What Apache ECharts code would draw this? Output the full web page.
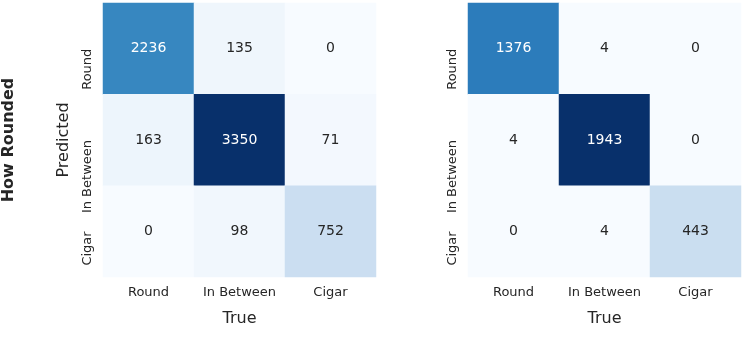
<!DOCTYPE html>
<html>
<head>
<meta charset="utf-8">
<script src="https://cdn.jsdelivr.net/npm/echarts@6/dist/echarts.min.js"></script>
<style>
html, body { margin: 0; padding: 0; background: #fff; }
#chart { width: 756px; height: 360px; }
</style>
</head>
<body>
<div id="chart"></div>
<script>
// confusion matrices, rows = predicted, cols = true
const classes = ['Round', 'In Between', 'Cigar'];
const leftMatrix = [
	[2236, 135, 0],
	[163, 3350, 71],
	[0, 98, 752]
];
const rightMatrix = [
	[1376, 4, 0],
	[4, 1943, 0],
	[0, 4, 443]
];
const blues = ['#f7fbff', '#deebf7', '#c6dbef', '#9ecae1', '#6baed6', '#4292c6', '#2171b5', '#08519c', '#08306b'];

const font = 'DejaVu Sans';
const dark = '#262626';

const toCells = (m) => {
	const max = Math.max(...m.flat());
	const out = [];
	m.forEach((row, r) => row.forEach((v, c) => {
		out.push({
			value: [c, r, v],
			label: { color: v / max > 0.5 ? '#ffffff' : dark }
		});
	}));
	return out;
};

const grids = [
	{ left: 103, top: 3, width: 273, height: 274 },
	{ left: 468, top: 3, width: 273, height: 274 }
];

const xAxis = grids.map((g, i) => ({
	type: 'category',
	gridIndex: i,
	data: classes,
	name: 'True',
	nameLocation: 'middle',
	nameGap: 34,
	nameTextStyle: { fontFamily: font, fontSize: 16, color: dark },
	axisLine: { show: false },
	axisTick: { show: false },
	splitLine: { show: false },
	axisLabel: { interval: 0, fontFamily: font, fontSize: 13, color: dark, margin: 9 }
}));

const yAxis = grids.map((g, i) => ({
	type: 'category',
	gridIndex: i,
	data: classes,
	inverse: true,
	name: i === 0 ? 'Predicted' : '',
	nameLocation: 'middle',
	nameRotate: 90,
	nameGap: 31,
	nameTextStyle: { fontFamily: font, fontSize: 16, color: dark },
	axisLine: { show: false },
	axisTick: { show: false },
	splitLine: { show: false },
	axisLabel: { interval: 0, fontFamily: font, fontSize: 13, color: dark, rotate: 90, margin: 9, align: 'right' }
}));

const mats = [leftMatrix, rightMatrix];

const chart = echarts.init(document.getElementById('chart'), null, { renderer: 'canvas' });
chart.setOption({
	animation: false,
	backgroundColor: '#ffffff',
	grid: grids,
	xAxis: xAxis,
	yAxis: yAxis,
	visualMap: mats.map((m, i) => ({
		show: false,
		seriesIndex: i,
		dimension: 2,
		min: 0,
		max: Math.max(...m.flat()),
		inRange: { color: blues }
	})),
	graphic: [{
		type: 'text',
		x: 9,
		y: 140,
		rotation: Math.PI / 2,
		style: {
			text: 'How Rounded',
			fontFamily: font,
			fontSize: 16,
			fontWeight: 'bold',
			fill: dark,
			align: 'center',
			verticalAlign: 'middle'
		}
	}],
	series: mats.map((m, i) => ({
		type: 'heatmap',
		xAxisIndex: i,
		yAxisIndex: i,
		data: toCells(m),
		label: {
			show: true,
			fontFamily: font,
			fontSize: 14,
			formatter: (p) => p.value[2]
		},
		itemStyle: { borderWidth: 0 }
	}))
});
</script>
</body>
</html>
